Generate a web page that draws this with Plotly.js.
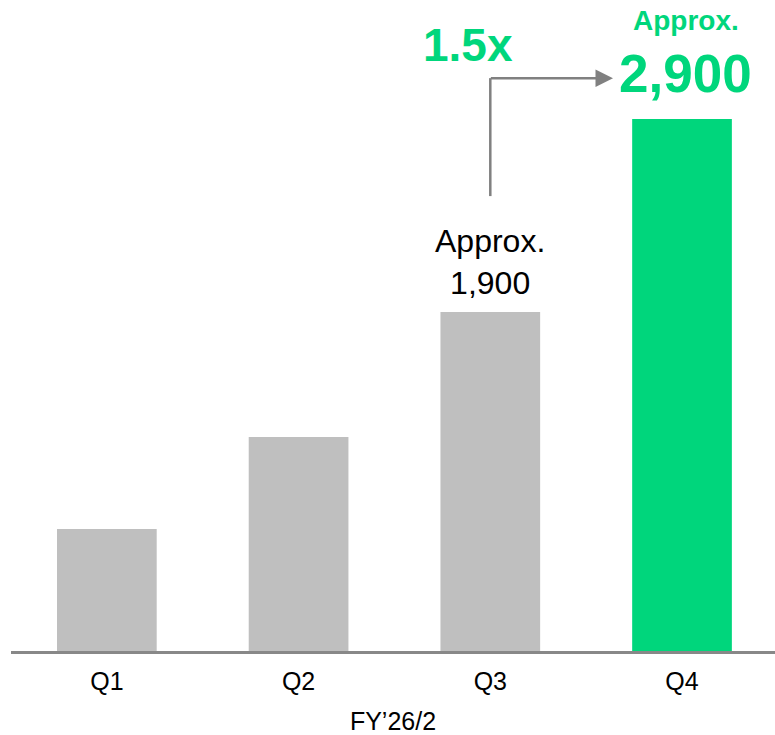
<!DOCTYPE html>
<html>
<head>
<meta charset="utf-8">
<script src="https://cdn.plot.ly/plotly-3.0.1.min.js"></script>
<style>html,body{margin:0;padding:0;background:#fff;}#chart{width:775px;height:735px;}</style>
</head>
<body>
<div id="chart"></div>
<script>
const categories = ['Q1', 'Q2', 'Q3', 'Q4'];
const values = [665, 1166, 1848, 2900];
const barColors = ['#BFBFBF', '#BFBFBF', '#BFBFBF', '#00D67C'];
const xAxisTitle = 'FY\u201926/2';
const q3Label = 'Approx.<br>1,900';
const q4LabelTop = 'Approx.';
const q4LabelValue = '2,900';
const growthLabel = '1.5x';

const FONT = 'Arial, "Liberation Sans", sans-serif';
const green = '#00D67C';

const trace = {
  type: 'bar',
  x: [0, 1, 2, 3],
  y: values,
  marker: {color: barColors, line: {width: 0}},
  width: 0.52,
  hoverinfo: 'skip'
};

const layout = {
  width: 775, height: 735,
  margin: {l: 11, r: 0, t: 0, b: 84},
  paper_bgcolor: '#fff', plot_bgcolor: '#fff',
  showlegend: false,
  font: {family: FONT, color: '#000'},
  xaxis: {
    range: [-0.5, 3.485],
    tickvals: [0, 1, 2, 3],
    ticktext: categories,
    showgrid: false, zeroline: false,
    showline: true, linecolor: '#888888', linewidth: 2.5,
    ticks: '', ticklen: 0,
    ticklabelstandoff: 6,
    tickfont: {family: FONT, size: 25, color: '#000'},
    title: {text: xAxisTitle, font: {family: FONT, size: 25, color: '#000'}, standoff: 23}
  },
  yaxis: {
    range: [0, 3549],
    visible: false, showgrid: false, zeroline: false
  },
  shapes: [
    {type: 'line', xref: 'x', yref: 'y', x0: 2, x1: 2, y0: 2480, y1: 3123,
     line: {color: '#808080', width: 2.5}}
  ],
  annotations: [
    {xref: 'x', yref: 'y', x: 2.64, y: 3123, ax: 1.995, ay: 3123, axref: 'x', ayref: 'y',
     showarrow: true, arrowhead: 2, arrowsize: 1.4, arrowwidth: 2.5, arrowcolor: '#808080', text: ''},
    {xref: 'x', yref: 'y', x: 2, y: 1895, yanchor: 'bottom', xanchor: 'center',
     text: q3Label, showarrow: false, font: {family: FONT, size: 32, color: '#000'}},
    {xref: 'x', yref: 'y', x: 1.883, y: 3303, yanchor: 'middle', xanchor: 'center',
     text: '<b>' + growthLabel + '</b>', showarrow: false, font: {family: FONT, size: 46, color: green}},
    {xref: 'x', yref: 'y', x: 3.02, y: 3435, yanchor: 'middle', xanchor: 'center',
     text: '<b>' + q4LabelTop + '</b>', showarrow: false, font: {family: FONT, size: 28, color: green}},
    {xref: 'x', yref: 'y', x: 3.02, y: 3150, yanchor: 'middle', xanchor: 'center',
     text: '<b>' + q4LabelValue + '</b>', showarrow: false, font: {family: FONT, size: 53, color: green}}
  ]
};

Plotly.newPlot('chart', [trace], layout, {displayModeBar: false, staticPlot: true});
</script>
</body>
</html>
